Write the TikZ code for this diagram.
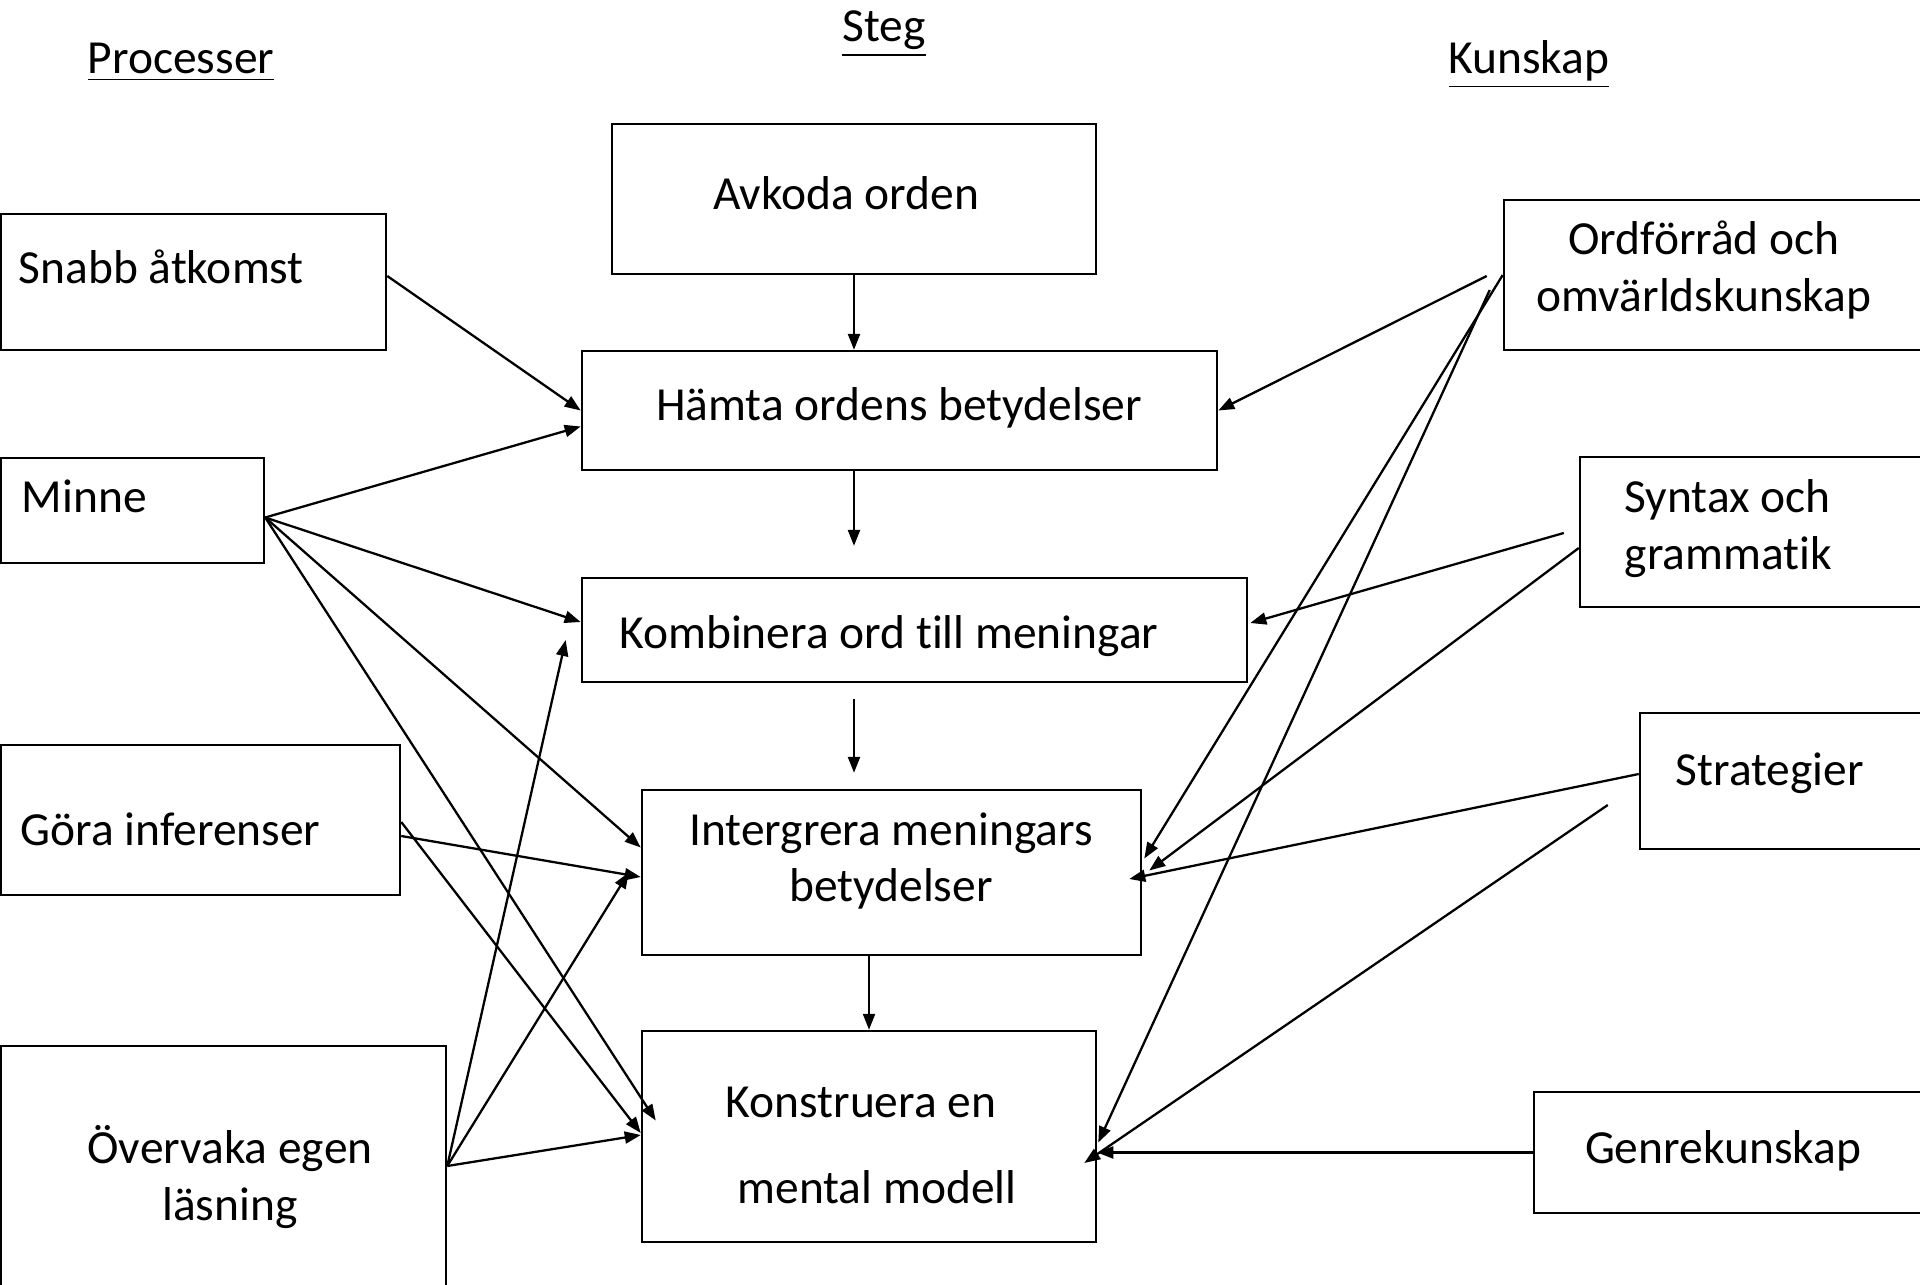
\documentclass[tikz,border=0pt]{standalone}
\usepackage{fontspec}
\setmainfont{Carlito}[Ligatures={NoCommon,NoContextual},Contextuals=NoAlternate]
\usetikzlibrary{arrows.meta,calc,positioning}

\tikzset{
  box/.style={draw, rectangle, inner sep=0pt, line width=0.65pt},
  txt/.style={inner sep=0pt, anchor=base, font=\fontsize{13.5}{16.5}\selectfont},
  pil/.style={-{Triangle[length=0.16cm,width=0.12cm]}, line width=0.65pt},
}

\begin{document}
\begin{tikzpicture}[x=0.01cm,y=-0.01cm]

\useasboundingbox (0,0) rectangle (1920,1285);
\clip (0,0) rectangle (1920,1285);

% rubriker
\node[txt] (processer) at (181,74) {\underline{Processer}};
\node[txt] (steg) at (884,42) {\underline{Steg}};
\node[txt] (kunskap) at (1529,74) {\underline{Kunskap}};

% steg i mitten
\node[box, minimum width=4.84cm, minimum height=1.50cm] (avkoda) at (854,199) {};
\node[box, minimum width=6.35cm, minimum height=1.19cm] (hamta) at (899.5,410.5) {};
\node[box, minimum width=6.65cm, minimum height=1.04cm] (kombinera) at (914.5,630) {};
\node[box, minimum width=4.99cm, minimum height=1.65cm] (integrera) at (891.5,872.5) {};
\node[box, minimum width=4.54cm, minimum height=2.11cm] (konstruera) at (869,1136.5) {};

% processer
\node[box, minimum width=3.85cm, minimum height=1.36cm] (snabb) at (193.5,282) {};
\node[box, minimum width=2.63cm, minimum height=1.05cm] (minne) at (132.5,510.5) {};
\node[box, minimum width=3.99cm, minimum height=1.50cm] (gora) at (200.5,820) {};
\node[box, minimum width=4.45cm, minimum height=2.74cm] (overvaka) at (223.5,1183) {};

% kunskap
\node[box, minimum width=4.36cm, minimum height=1.50cm] (ordforrad) at (1722,275) {};
\node[box, minimum width=3.60cm, minimum height=1.50cm] (syntax) at (1760,532) {};
\node[box, minimum width=3.00cm, minimum height=1.36cm] (strategier) at (1790,781) {};
\node[box, minimum width=4.06cm, minimum height=1.21cm] (genre) at (1737,1152.5) {};

% texter
\node[txt] (avkoda1) at (846,209.5) {Avkoda orden};
\node[txt] (hamta1) at (899,421) {Hämta ordens betydelser};
\node[txt] (kombinera1) at (889,648) {Kombinera ord till meningar};
\node[txt] (integrera1) at (891,845) {Intergrera meningars};
\node[txt] (integrera2) at (891,901) {betydelser};
\node[txt] (konstruera1) at (861,1117) {Konstruera en};
\node[txt] (konstruera2) at (877,1203) {mental modell};

\node[txt, anchor=base west] (snabb1) at (18,284) {Snabb åtkomst};
\node[txt, anchor=base west] (minne1) at (21,512) {Minne};
\node[txt, anchor=base west] (gora1) at (20,845) {Göra inferenser};
\node[txt] (overvaka1) at (230,1163) {Övervaka egen};
\node[txt] (overvaka2) at (230,1220) {läsning};

\node[txt] (ordforrad1) at (1704,255) {Ordförråd och};
\node[txt] (ordforrad2) at (1704,312) {omvärldskunskap};
\node[txt, anchor=base west] (syntax1) at (1624,512) {Syntax och};
\node[txt, anchor=base west] (syntax2) at (1624,569) {grammatik};
\node[txt, anchor=base west] (strategier1) at (1675,785) {Strategier};
\node[txt] (genre1) at (1723,1163) {Genrekunskap};

% pilar nedat
\coordinate (gap1) at ($(avkoda.south |- kombinera.north)+(0,-31)$);
\coordinate (gap2a) at ($(avkoda.south |- kombinera.south)+(0,16)$);
\coordinate (gap2b) at ($(avkoda.south |- integrera.north)+(0,-16)$);
\draw[pil] (avkoda.south) -- (avkoda.south |- hamta.north);
\draw[pil] (avkoda.south |- hamta.south) -- (gap1);
\draw[pil] (gap2a) -- (gap2b);
\draw[pil] (konstruera.north |- integrera.south) -- (konstruera.north);

% fran processer
\coordinate (m) at ($(minne.east)+(0,7)$);
\coordinate (o) at ($(overvaka.east)+(0,-17)$);
\draw[pil] ($(snabb.east)+(0,-6)$) -- (hamta.west);
\draw[pil] (m) -- ($(hamta.west)+(0,16)$);
\draw[pil] (m) -- ($(kombinera.west)+(0,-8)$);
\draw[pil] (m) -- ($(integrera.west)+(0,-25)$);
\draw[pil] (m) -- ($(konstruera.west)+(15,-16)$);
\draw[pil] ($(gora.east)+(0,16)$) -- ($(integrera.west)+(0,4.5)$);
\draw[pil] ($(gora.east)+(0,2)$) -- ($(konstruera.west)+(0,-3.5)$);
\draw[pil] (o) -- ($(kombinera.west)+(-15,10)$);
\draw[pil] (o) -- ($(integrera.west)+(-12,0)$);
\draw[pil] (o) -- ($(konstruera.west)+(0,-1.5)$);

% fran kunskap
\draw[pil] ($(ordforrad.west)+(-16,1)$) -- (hamta.east);
\draw[pil] (ordforrad.west) -- ($(integrera.east)+(2,-14)$);
\draw[pil] ($(ordforrad.west)+(-13,15)$) -- ($(konstruera.east)+(1,6)$);
\draw[pil] ($(syntax.west)+(-15,1)$) -- ($(kombinera.east)+(2,-7)$);
\draw[pil] ($(syntax.west)+(0,16)$) -- ($(integrera.east)+(7,-2)$);
\draw[pil] ($(strategier.west)+(0,-7)$) -- ($(integrera.east)+(-13,6.5)$);
\draw[pil] ($(strategier.west)+(-31,24)$) -- ($(konstruera.east)+(-13,26.5)$);
\draw[pil] (genre.west) -- (genre.west -| konstruera.east);

\end{tikzpicture}
\end{document}
